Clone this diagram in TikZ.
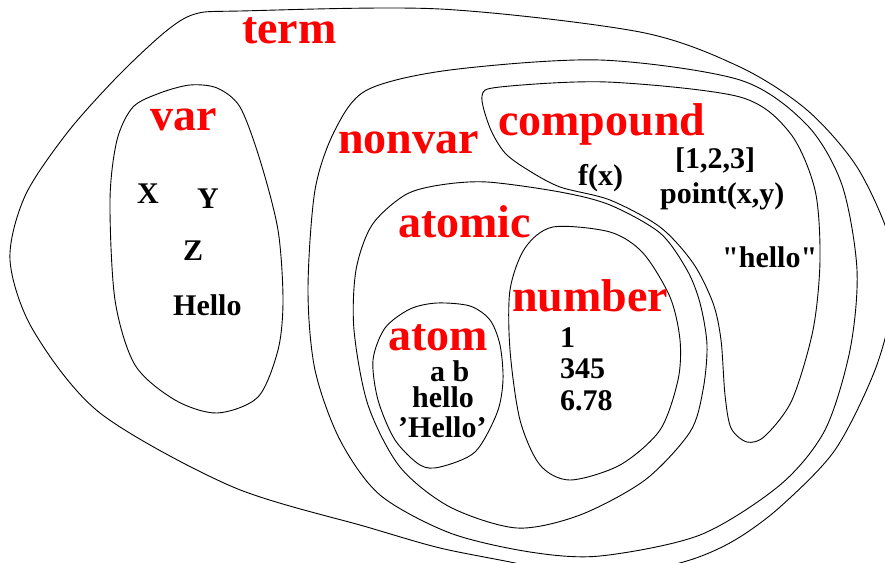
\documentclass[tikz,border=0pt]{standalone}
\usepackage{fontspec}
\setmainfont{Liberation Serif}
\newfontfamily\rawserif{Liberation Serif}[Ligatures=TeXOff]
\begin{document}
\begin{tikzpicture}[x=1pt,y=-1pt,
  region/.style={draw=black, line width=0.9pt},
  cls/.style={text=red, font=\bfseries\fontsize{46}{50}\selectfont, anchor=base west, inner sep=0pt},
  item/.style={text=black, font=\bfseries\fontsize{30}{34}\selectfont, anchor=base west, inner sep=0pt}]
\useasboundingbox (0,0) rectangle (885,562);
\begin{scope}
\clip (0,0) rectangle (885,562);
% term
\draw[region] plot[smooth cycle] coordinates {(10,260) (25,196) (67,133) (117,77) (165,32) (195,14) (240,11) (440,9) (640,32) (740,67) (807,110) (857,167) (890,240) (893,300) (875,370) (835,450) (780,507) (735,540) (690,560) (620,576) (560,574) (515,563) (440,548) (367,527) (233,487) (100,413) (33,330)};
\end{scope}
% var
\draw[region] plot[smooth cycle] coordinates {(190,85) (217,88) (240,107) (260,160) (278,230) (283,300) (278,350) (258,397) (217,413) (175,400) (135,365) (115,300) (110,200) (117,140) (133,107) (160,93)};
% nonvar
\draw[region] plot[smooth cycle] coordinates {(308,290) (315,190) (335,130) (367,90) (450,70) (600,60) (740,80) (807,125) (842,185) (857,270) (850,350) (825,430) (780,485) (700,535) (600,556) (530,552) (450,533) (380,495) (340,440) (315,370)};
% compound
\draw[region] plot[smooth cycle] coordinates {(482,96) (500,87) (607,82) (740,97) (790,133) (815,190) (820,260) (813,330) (792,400) (765,436) (747,442) (731,428) (725,395) (721,340) (713,303) (693,263) (660,227) (610,200) (560,187) (528,170) (505,153) (490,128)};
% atomic
\draw[region] plot[smooth cycle] coordinates {(487,182) (560,192) (610,205) (660,233) (687,270) (700,303) (707,345) (703,390) (690,432) (645,480) (580,515) (517,528) (450,507) (400,467) (368,405) (354,330) (356,270) (372,225) (405,195) (440,185)};
% number
\draw[region] plot[smooth cycle] coordinates {(553,227) (610,232) (643,253) (670,297) (680,340) (678,380) (660,430) (620,465) (570,480) (540,465) (520,420) (510,350) (510,290) (525,248)};
% atom
\draw[region] plot[smooth cycle] coordinates {(437,303) (470,306) (490,320) (500,345) (503,380) (497,413) (475,452) (440,467) (420,465) (395,440) (378,400) (373,360) (385,328) (410,309)};

\node[cls] (lterm) at (242,43) {term};
\node[cls] (lvar) at (150,130) {var};
\node[cls] (lnonvar) at (338,153) {nonvar};
\node[cls] (lcompound) at (498,135) {compound};
\node[cls] (latomic) at (398,237) {atomic};
\node[cls] (lnumber) at (512,311) {number};
\node[cls] (latom) at (388,350) {atom};

\node[item] (vx) at (137,203) {X};
\node[item] (vy) at (197,208) {Y};
\node[item] (vz) at (183,260) {Z};
\node[item] (vhello) at (173,315) {Hello};

\node[item] (cf) at (578,185) {f(x)};
\node[item] (clist) at (675,168) {[1,2,3]};
\node[item] (cpoint) at (660,203) {point(x,y)};
\node[item, font=\rawserif\bfseries\fontsize{30}{34}\selectfont] (cstr) at (722,267) {"hello"};

\node[item] (aab) at (430,381) {a b};
\node[item] (ahello) at (412,407) {hello};
\node[item] (aqhello) at (398,437) {’Hello’};

\node[item] (n1) at (560,347) {1};
\node[item] (n345) at (560,378) {345};
\node[item] (n678) at (560,410) {6.78};
\end{tikzpicture}
\end{document}
